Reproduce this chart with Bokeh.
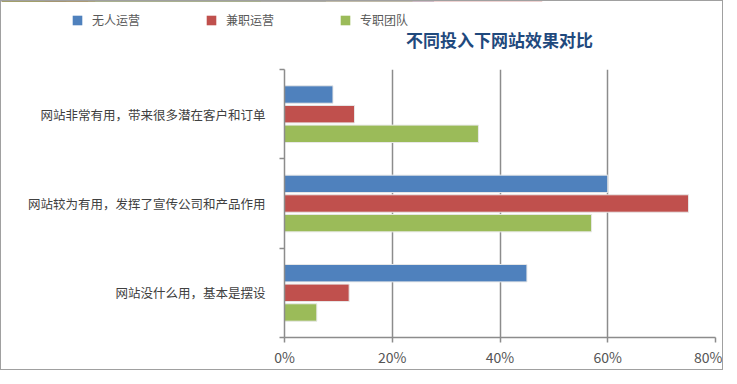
from bokeh.plotting import figure
from bokeh.layouts import column
from bokeh.models import (ColumnDataSource, FixedTicker, NumeralTickFormatter, Range1d,
                          Legend, LegendItem, Label)
from bokeh.transform import dodge
from bokeh.embed import file_html
from bokeh.resources import INLINE

categories = ["网站非常有用，带来很多潜在客户和订单",
              "网站较为有用，发挥了宣传公司和产品作用",
              "网站没什么用，基本是摆设"]
series = ["无人运营", "兼职运营", "专职团队"]
unstaffed = [0.09, 0.60, 0.45]
parttime = [0.13, 0.75, 0.12]
team = [0.36, 0.57, 0.06]
x_ticks = [0, 0.2, 0.4, 0.6, 0.8]
title_text = "不同投入下网站效果对比"

colors = ["#4F81BD", "#C0504D", "#9BBB59"]
FONT = "Noto Sans CJK SC"
W = 721
HEAD_H = 60

n = len(categories)
ypos = [n - 0.5 - i for i in range(n)]
source = ColumnDataSource(dict(y=ypos, cat=categories, s0=unstaffed, s1=parttime, s2=team))
keys = ["s0", "s1", "s2"]

# ---- header: legend + title (its bars fall outside its own ranges; they only feed the legend) ----
head = figure(width=W, height=HEAD_H, output_backend="svg", toolbar_location=None,
              x_range=Range1d(0, 1), y_range=Range1d(-2, -1),
              x_axis_type=None, y_axis_type=None, min_border=0)
head.frame_align = False
head.outline_line_color = None
head.grid.visible = False
head_r = [head.hbar(y="y", right=k, left=0, height=0.5, source=source,
                    fill_color=c, line_color=None) for k, c in zip(keys, colors)]
legend = Legend(items=[LegendItem(label=s, renderers=[r]) for s, r in zip(series, head_r)],
                orientation="horizontal", location=(70, 33),
                glyph_width=12, glyph_height=12, label_standoff=9, spacing=65,
                padding=0, margin=0, border_line_color=None, background_fill_alpha=0,
                label_text_font=FONT, label_text_font_size="12px", label_text_color="#595959")
head.add_layout(legend, "center")
head.add_layout(Label(x=498, y=22, x_units="screen", y_units="screen", text=title_text,
                      text_align="center", text_baseline="middle", text_font=FONT,
                      text_font_size="17px", text_font_style="bold", text_color="#1F497D"))

# ---- main chart ----
p = figure(width=W, height=368 - HEAD_H, output_backend="svg", toolbar_location=None,
           x_range=Range1d(0, 0.8), y_range=Range1d(0, n),
           min_border_left=283, min_border_right=7, min_border_top=8, min_border_bottom=26)
p.frame_align = False
p.outline_line_color = None

offsets = [0.22, 0.0, -0.22]
for i, key in enumerate(keys):
    p.hbar(y=dodge("y", offsets[i]), right=key, left=0, height=0.195, source=source,
           fill_color=colors[i], line_color="#e8e8e8", line_width=1)

p.xaxis.ticker = FixedTicker(ticks=x_ticks)
p.xaxis.formatter = NumeralTickFormatter(format="0%")
p.xaxis.axis_line_color = "#8c8c8c"
p.xaxis.axis_line_width = 1.5
p.xaxis.major_tick_line_color = "#8c8c8c"
p.xaxis.major_tick_line_width = 1.5
p.xaxis.major_tick_out = 5
p.xaxis.major_tick_in = 0
p.xaxis.minor_tick_line_color = None
p.xaxis.major_label_text_font = FONT
p.xaxis.major_label_text_font_size = "14px"
p.xaxis.major_label_text_color = "#555555"
p.xaxis.major_label_standoff = 4

p.yaxis.ticker = FixedTicker(ticks=ypos, minor_ticks=list(range(n + 1)))
p.yaxis.major_label_overrides = {y: c for y, c in zip(ypos, categories)}
p.yaxis.major_tick_line_color = None
p.yaxis.minor_tick_line_color = "#8c8c8c"
p.yaxis.minor_tick_line_width = 1.5
p.yaxis.minor_tick_out = 5
p.yaxis.minor_tick_in = 0
p.yaxis.axis_line_color = "#8c8c8c"
p.yaxis.axis_line_width = 1.5
p.yaxis.major_label_text_font = FONT
p.yaxis.major_label_text_font_size = "12.5px"
p.yaxis.major_label_text_color = "#404040"
p.yaxis.major_label_standoff = 13

p.xgrid.ticker = FixedTicker(ticks=x_ticks)
p.xgrid.grid_line_color = "#8c8c8c"
p.xgrid.grid_line_width = 1.5
p.ygrid.grid_line_color = None

layout = column(head, p, spacing=0)
layout.styles = {"border": "1px solid #a0a0a0"}

open("out.html", "w").write(file_html(layout, INLINE))
